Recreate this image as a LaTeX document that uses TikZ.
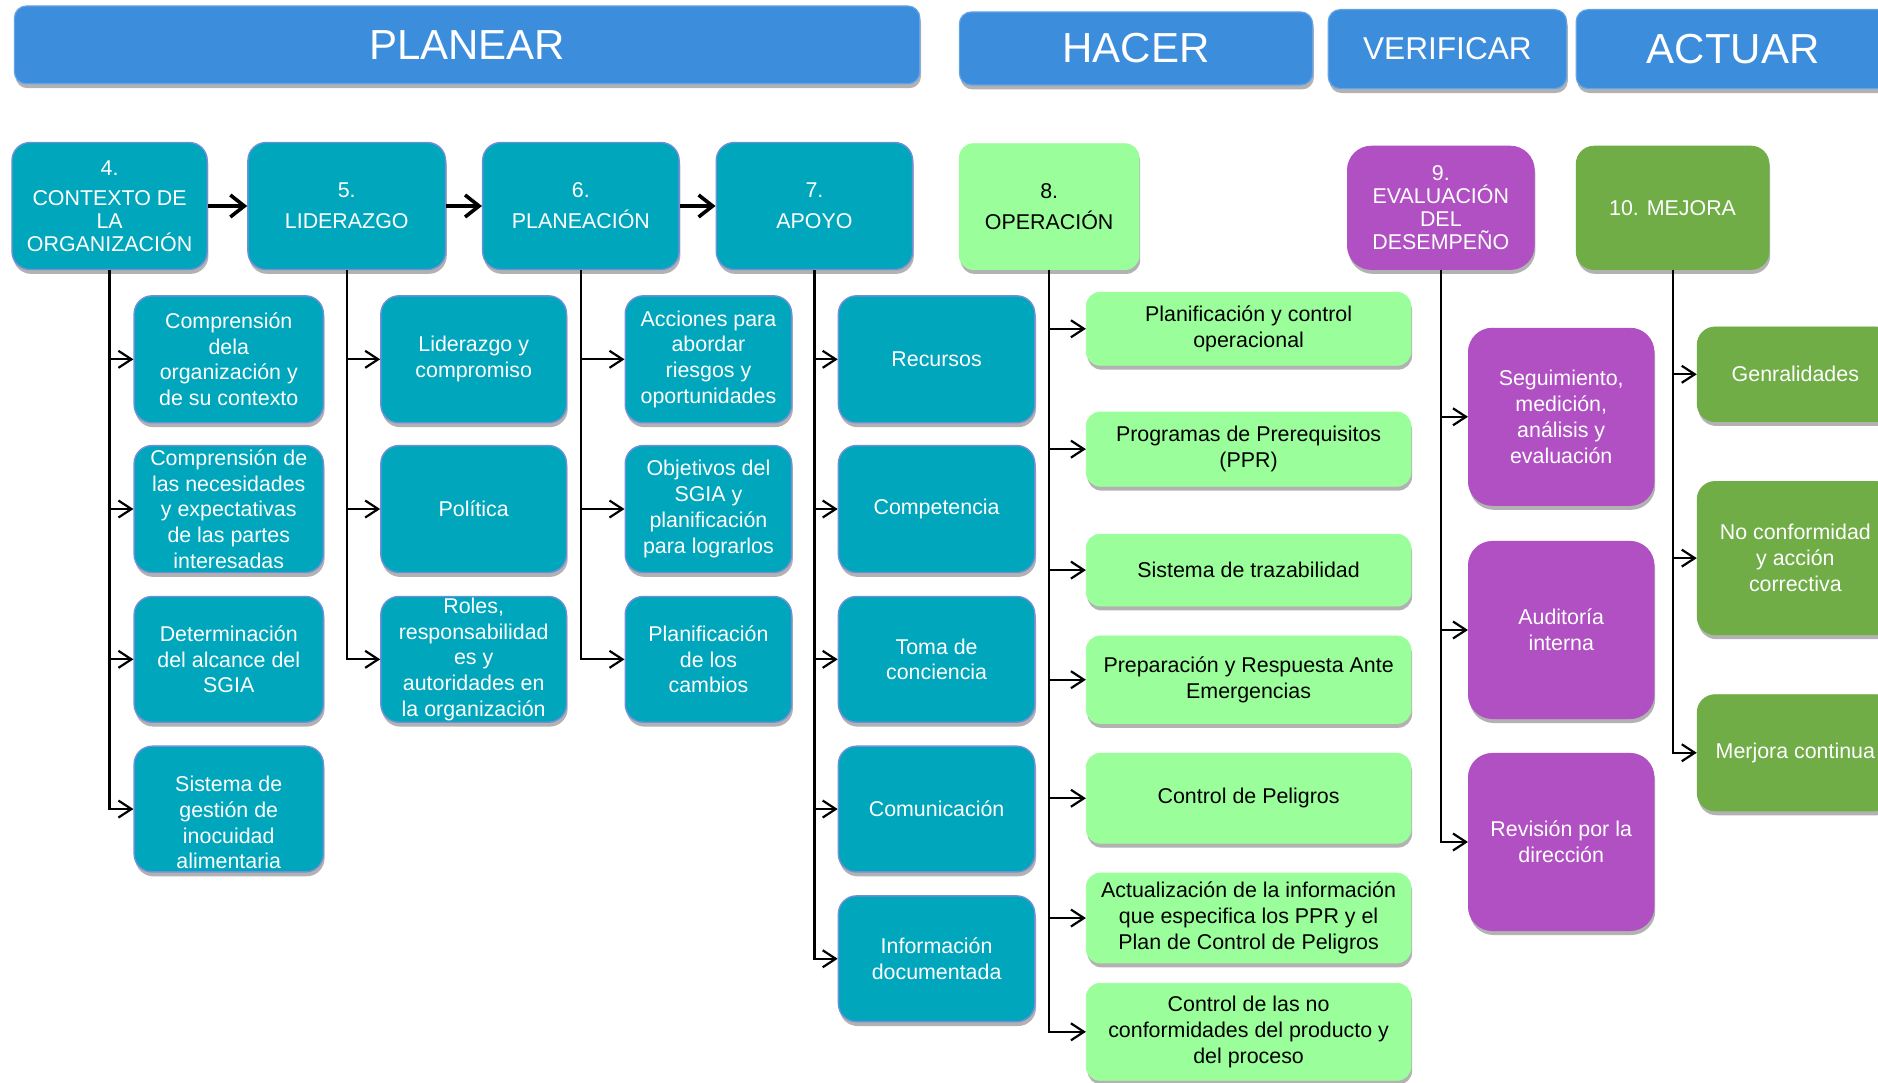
\documentclass[tikz,border=0pt]{standalone}
\usepackage{fontspec}
\setmainfont{Liberation Sans}
\usetikzlibrary{shadows,arrows.meta}
\definecolor{hdrblue}{HTML}{3D8DDD}
\definecolor{cteal}{HTML}{00A6BB}
\definecolor{ctealborder}{HTML}{6F8FD8}
\definecolor{clgreen}{HTML}{9AFF9A}
\definecolor{cpurple}{HTML}{B050C2}
\definecolor{cgreen}{HTML}{70AD47}
\tikzset{
  span/.style n args={4}{at={({(#1+#3)/2},{(#2+#4)/2})}, anchor=center,
     minimum width={(#3-#1)*0.5989pt}, minimum height={(#4-#2)*0.5989pt}},
  boxshadow/.style={drop shadow={shadow xshift=0.6pt,shadow yshift=-2.2pt,opacity=0.3,fill=black}},
  basebox/.style={inner sep=0pt, align=center, boxshadow, font=\fontsize{10.7}{12.9}\selectfont},
  hdrbox/.style={basebox, fill=hdrblue, draw=hdrblue!80!white, line width=0.6pt, rounded corners=6pt, text=white, font=\fontsize{21}{25}\selectfont},
  mainfont/.style={font=\fontsize{10.7}{11.4}\selectfont},
  tealbox/.style={basebox, fill=cteal, draw=ctealborder, line width=0.7pt, rounded corners=9pt, text=white},
  lgbox/.style={basebox, fill=clgreen, draw=clgreen, rounded corners=7pt, text=black},
  purbox/.style={basebox, fill=cpurple, draw=cpurple, rounded corners=12pt, text=white},
  grbox/.style={basebox, fill=cgreen, draw=cgreen, rounded corners=9pt, text=white},
  mainarrow/.style={draw=black, line width=1.8pt, -{Straight Barb[length=7pt,width=11pt]}},
  childarrow/.style={draw=black, line width=1.1pt, -{Straight Barb[length=6.5pt,width=8.5pt]}},
}
\begin{document}
\begin{tikzpicture}[x=0.5989pt,y=-0.5989pt]
\useasboundingbox (0,0) rectangle (1568,904);
\clip (0,0) rectangle (1568,904);
\fill[white] (0,0) rectangle (1568,904);

% headers
\node[hdrbox, span={12}{5}{768}{70}] (hplan) {PLANEAR};
\node[hdrbox, span={801}{10}{1096}{71}] (hhacer) {HACER};
\node[hdrbox, span={1109}{8}{1308}{74}, font=\fontsize{15.8}{19}\selectfont] (hver) {VERIFICAR};
\node[hdrbox, span={1316}{8}{1578}{74}] (hact) {ACTUAR};

% main boxes
\node[tealbox, mainfont, span={10}{119}{173}{225}] (m4) {4.\\[4pt]CONTEXTO DE\\LA\\ORGANIZACIÓN};
\node[tealbox, mainfont, span={207}{119}{372}{225}] (m5) {5.\\[4pt]LIDERAZGO};
\node[tealbox, mainfont, span={403}{119}{567}{225}] (m6) {6.\\[4pt]PLANEACIÓN};
\node[tealbox, mainfont, span={598}{119}{762}{225}] (m7) {7.\\[4pt]APOYO};
\node[lgbox, mainfont, span={801}{120}{951}{225}] (m8) {8.\\[4pt]OPERACIÓN};
\node[purbox, mainfont, span={1125}{122}{1281}{225}] (m9) {9.\\EVALUACIÓN\\DEL\\DESEMPEÑO};
\node[grbox, mainfont, span={1316}{122}{1477}{225}] (m10) {10. MEJORA};

\draw[mainarrow] (m4.east) -- (m5.west);
\draw[mainarrow] (m5.east) -- (m6.west);
\draw[mainarrow] (m6.east) -- (m7.west);

% column 4
\node[tealbox, span={112}{247}{270}{353}] (c4a) {Comprensión\\dela\\organización y\\de su contexto};
\node[tealbox, span={112}{372}{270}{478}] (c4b) {Comprensión de\\las necesidades\\y expectativas\\de las partes\\interesadas};
\node[tealbox, span={112}{498}{270}{603}] (c4c) {Determinación\\del alcance del\\SGIA};
\node[tealbox, span={112}{623}{270}{728}, text height=60pt] (c4d) {Sistema de\\gestión de\\inocuidad\\alimentaria};
\foreach \c in {c4a,c4b,c4c,c4d} \draw[childarrow] (m4.south) |- (\c.west);

% column 5
\node[tealbox, span={318}{247}{473}{353}] (c5a) {Liderazgo y\\compromiso};
\node[tealbox, span={318}{372}{473}{478}] (c5b) {Política};
\node[tealbox, span={318}{498}{473}{603}] (c5c) {Roles,\\responsabilidad\\es y\\autoridades en\\la organización};
\foreach \c in {c5a,c5b,c5c} \draw[childarrow] (m5.south) |- (\c.west);

% column 6
\node[tealbox, span={522}{247}{661}{353}] (c6a) {Acciones para\\abordar\\riesgos y\\oportunidades};
\node[tealbox, span={522}{372}{661}{478}] (c6b) {Objetivos del\\SGIA y\\planificación\\para lograrlos};
\node[tealbox, span={522}{498}{661}{603}] (c6c) {Planificación\\de los\\cambios};
\foreach \c in {c6a,c6b,c6c} \draw[childarrow] (m6.south) |- (\c.west);

% column 7
\node[tealbox, span={700}{247}{864}{353}] (c7a) {Recursos};
\node[tealbox, span={700}{372}{864}{478}] (c7b) {Competencia};
\node[tealbox, span={700}{498}{864}{603}] (c7c) {Toma de\\conciencia};
\node[tealbox, span={700}{623}{864}{728}] (c7d) {Comunicación};
\node[tealbox, span={700}{748}{864}{853}] (c7e) {Información\\documentada};
\foreach \c in {c7a,c7b,c7c,c7d,c7e} \draw[childarrow] (m7.south) |- (\c.west);

% column 8
\node[lgbox, span={907}{244}{1178}{305}] (c8a) {Planificación y control\\operacional};
\node[lgbox, span={907}{344}{1178}{406}] (c8b) {Programas de Prerequisitos\\(PPR)};
\node[lgbox, span={907}{446}{1178}{506}] (c8c) {Sistema de trazabilidad};
\node[lgbox, span={907}{531}{1178}{604}] (c8d) {Preparación y Respuesta Ante\\Emergencias};
\node[lgbox, span={907}{629}{1178}{704}] (c8e) {Control de Peligros};
\node[lgbox, span={907}{729}{1178}{804}] (c8f) {Actualización de la información\\que especifica los PPR y el\\Plan de Control de Peligros};
\node[lgbox, span={907}{821}{1178}{902}] (c8g) {Control de las no\\conformidades del producto y\\del proceso};
\foreach \c in {c8a,c8b,c8c,c8d,c8e,c8f,c8g} \draw[childarrow] (m8.south) |- (\c.west);

% column 9
\node[purbox, span={1226}{274}{1381}{422}] (c9a) {Seguimiento,\\medición,\\análisis y\\evaluación};
\node[purbox, span={1226}{452}{1381}{600}] (c9b) {Auditoría\\interna};
\node[purbox, span={1226}{629}{1381}{777}] (c9c) {Revisión por la\\dirección};
\foreach \c in {c9a,c9b,c9c} \draw[childarrow] (m9.south) |- (\c.west);

% column 10
\node[grbox, span={1417}{273}{1581}{352}] (c10a) {Genralidades};
\node[grbox, span={1417}{402}{1581}{530}] (c10b) {No conformidad\\y acción\\correctiva};
\node[grbox, span={1417}{580}{1581}{677}] (c10c) {Merjora continua};
\foreach \c in {c10a,c10b,c10c} \draw[childarrow] (m10.south) |- (\c.west);
\end{tikzpicture}
\end{document}
